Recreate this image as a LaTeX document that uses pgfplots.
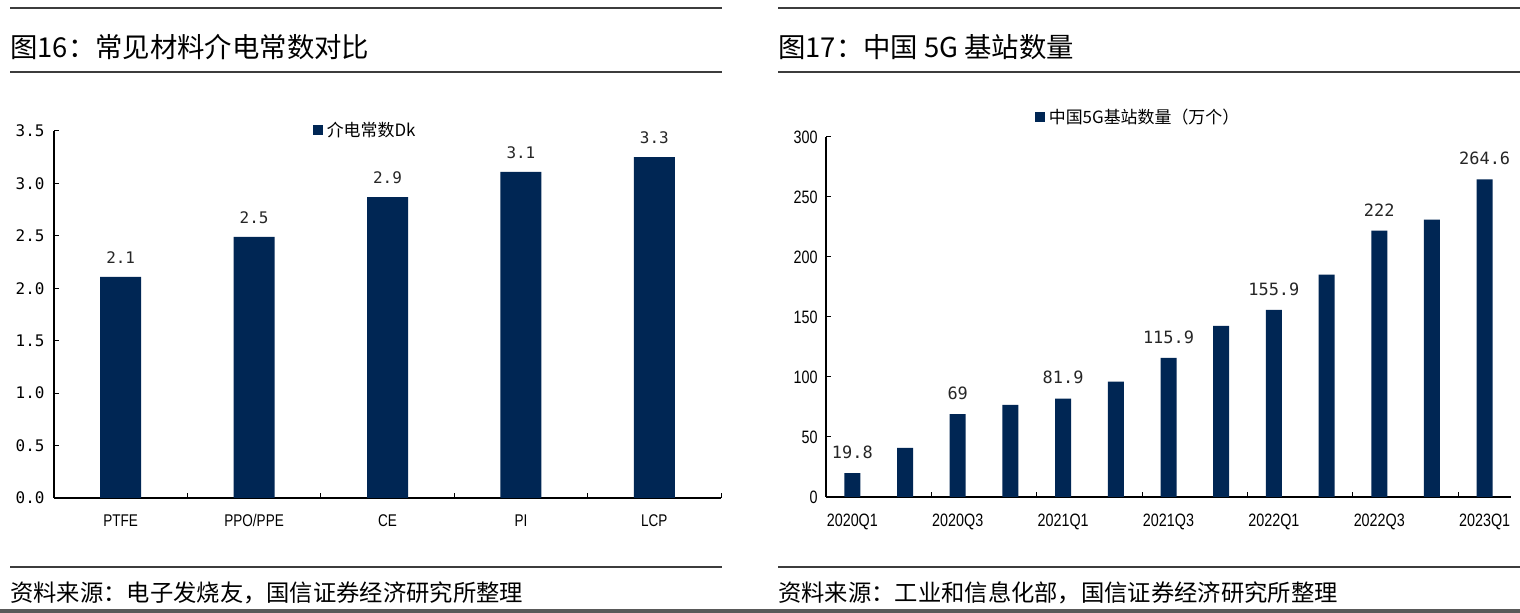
\documentclass[border=0pt]{standalone}
\usepackage{fontspec}
\setmainfont{Liberation Sans}
\newfontfamily\cjk{Noto Sans CJK SC}
\newfontfamily\narrow[FakeStretch=0.8]{Liberation Sans}
\newfontfamily\mono{DejaVu Sans Mono}
\usepackage{pgfplots}
\usepackage{pgfplotstable}
\pgfplotsset{compat=1.18}
\definecolor{barblue}{RGB}{0,38,84}
\definecolor{rulegray}{RGB}{60,60,60}
\newcommand\fs[1]{\fontsize{#1}{#1}\selectfont}

% dielectric constant, label as printed
\pgfplotstableread{
x y lab
0 2.11 2.1
1 2.49 2.5
2 2.87 2.9
3 3.11 3.1
4 3.25 3.3
}\dkdata

% 5G base stations (10k), 2020Q1..2023Q1
\pgfplotstableread{
x y
0 19.8
1 41.0
2 69.0
3 76.8
4 81.9
5 96.1
6 115.9
7 142.5
8 155.9
9 185.4
10 222.0
11 231.2
12 264.6
}\bsdata

\pgfplotsset{
  panel/.style={
    scale only axis,
    axis lines=left,
    axis line style={-, line width=1.2bp, black},
    enlargelimits=false,
    clip=false,
    tick align=inside,
    major tick length=5bp,
    tick style={line width=1bp, black},
    /pgf/number format/assume math mode=true,
    legend style={draw=none, fill=none, font=\cjk\fs{17}, inner sep=0pt,
      nodes={inner xsep=4bp, inner ysep=0pt}},
  },
}

\begin{document}
\begin{tikzpicture}
\path[use as bounding box] (0bp,0bp) rectangle (1520bp,613bp);
\fill[white] (0bp,0bp) rectangle (1520bp,613bp);

% rules, titles, sources
\begin{scope}[rulegray, line width=1.5bp]
  \draw (10bp,605bp) -- (722bp,605bp);
  \draw (10bp,541bp) -- (722bp,541bp);
  \draw (10bp,46bp) -- (722bp,46bp);
  \draw (778bp,605bp) -- (1520bp,605bp);
  \draw (778bp,541bp) -- (1520bp,541bp);
  \draw (778bp,46bp) -- (1520bp,46bp);
\end{scope}
\fill[rulegray!85] (0bp,0bp) rectangle (1520bp,4bp);
\node[anchor=west, inner sep=0pt] at (10bp,566bp) {\cjk\fs{27.5}图16：常见材料介电常数对比};
\node[anchor=west, inner sep=0pt] at (778bp,566bp) {\cjk\fs{27.5}图17：中国 5G 基站数量};
\node[anchor=west, inner sep=0pt] at (10bp,20bp) {\cjk\fs{23.4}资料来源：电子发烧友，国信证券经济研究所整理};
\node[anchor=west, inner sep=0pt] at (778bp,20bp) {\cjk\fs{23.4}资料来源：工业和信息化部，国信证券经济研究所整理};

% left panel
\begin{axis}[panel,
  at={(54bp,115bp)}, anchor=south west,
  width=667bp, height=367bp,
  xmin=-0.5, xmax=4.5, ymin=0, ymax=3.5,
  ytick={0,0.5,1,1.5,2,2.5,3,3.5},
  yticklabel style={font=\mono\fs{16}, xshift=-6bp,
    /pgf/number format/fixed, /pgf/number format/fixed zerofill,
    /pgf/number format/precision=1},
  xtick={0.5,1.5,2.5,3.5,4.5}, xticklabels={},
  extra x ticks={0,1,2,3,4},
  extra x tick labels={PTFE,PPO/PPE,CE,PI,LCP},
  extra x tick style={major tick length=0pt},
  xticklabel style={font=\narrow\fs{17}, yshift=-13bp},
  legend style={at={(0.468,1.003)}, anchor=center},
]
\addplot[ybar, bar width=41bp, bar shift=0pt, fill=barblue, draw=none,
  point meta=explicit symbolic,
  nodes near coords,
  nodes near coords style={font=\mono\fs{16}, text=black!85, yshift=10bp},
  legend image code/.code={\fill[barblue] (0bp,-5bp) rectangle (10bp,5bp);}]
  table[x=x, y=y, meta=lab] {\dkdata};
\addlegendentry{介电常数Dk}
\end{axis}

% right panel
\begin{axis}[panel,
  at={(826bp,116bp)}, anchor=south west,
  width=685bp, height=360bp,
  xmin=-0.5, xmax=12.5, ymin=0, ymax=300,
  ytick={0,50,...,300},
  yticklabel style={font=\narrow\fs{18}, xshift=-5bp},
  xtick={1.5,3.5,5.5,7.5,9.5,11.5}, xticklabels={},
  extra x ticks={0,2,4,6,8,10,12},
  extra x tick labels={2020Q1,2020Q3,2021Q1,2021Q3,2022Q1,2022Q3,2023Q1},
  extra x tick style={major tick length=0pt},
  xticklabel style={font=\narrow\fs{18}, yshift=-13bp},
  legend style={at={(0.457,1.056)}, anchor=center},
]
\addplot[ybar, bar width=16bp, bar shift=0pt, fill=barblue, draw=none,
  legend image code/.code={\fill[barblue] (0bp,-5bp) rectangle (10bp,5bp);}]
  table[x=x, y=y] {\bsdata};
\addlegendentry{中国5G基站数量（万个）}
% value labels on every second quarter
\addplot[ybar, bar width=16bp, bar shift=0pt, draw=none, fill=none, forget plot,
  nodes near coords,
  nodes near coords style={font=\mono\fs{17}, text=black!85, yshift=11bp}]
  coordinates {(0,19.8) (2,69) (4,81.9) (6,115.9) (8,155.9) (10,222) (12,264.6)};
\end{axis}
\end{tikzpicture}
\end{document}
